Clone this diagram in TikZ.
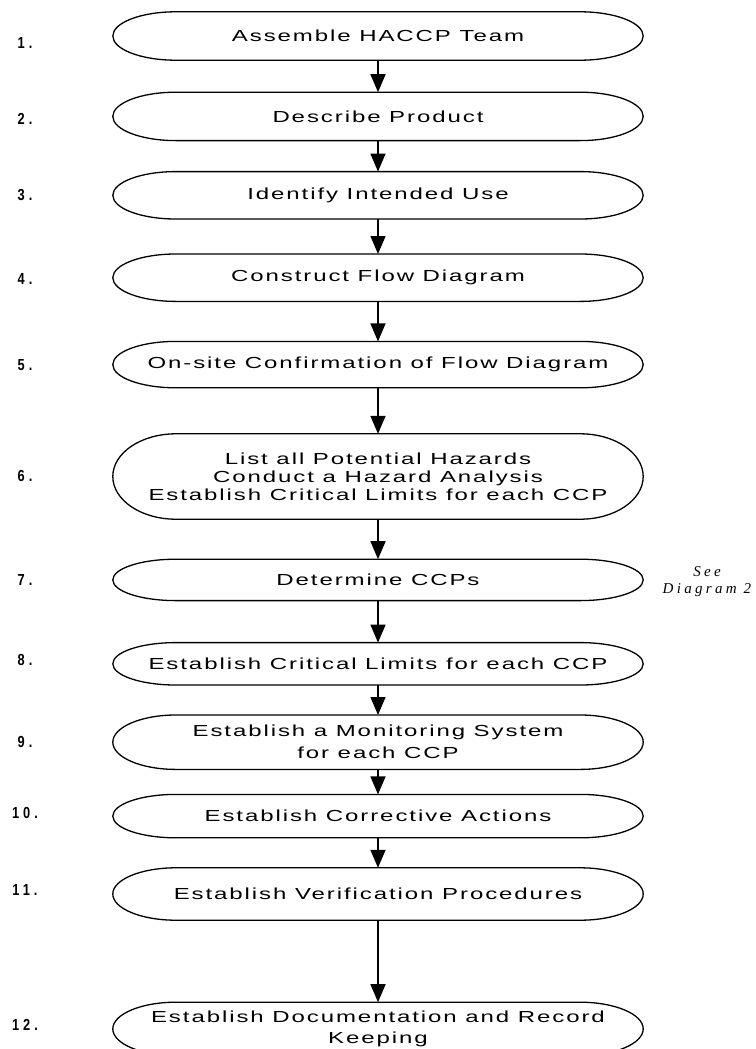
\documentclass[tikz,border=0pt]{standalone}
\usepackage{fontspec}
\setmainfont{Liberation Sans}
\newfontfamily\stepfont[LetterSpace=12,FakeStretch=1.5]{Liberation Sans}
\newfontfamily\numfont[LetterSpace=25,FakeStretch=0.8]{Liberation Sans}
\newfontfamily\notefont[LetterSpace=22]{Liberation Serif}
\usetikzlibrary{positioning,calc,arrows.meta}

\tikzset{
  stepbox/.style={minimum width=530pt,inner sep=0pt,align=center,
    font=\stepfont\fontsize{16}{18}\selectfont},
  flow/.style={line width=1.5pt,-{Triangle[width=15pt,length=18pt]}},
  numlbl/.style={font=\numfont\bfseries\fontsize{16}{18}\selectfont},
}

\begin{document}
\begin{tikzpicture}
    \useasboundingbox (0,0) rectangle (755pt,-1049pt);
    % the twelve steps
    \node[stepbox,minimum height=48pt](s1) at (378pt,-36pt){Assemble HACCP Team};
    \node[stepbox,minimum height=48pt](s2)[below=32pt of s1]{Describe Product};
    \node[stepbox,minimum height=47pt](s3)[below=31pt of s2]{Identify Intended Use};
    \node[stepbox,minimum height=47pt](s4)[below=35pt of s3]{Construct Flow Diagram};
    \node[stepbox,minimum height=46pt](s5)[below=40pt of s4]{On-site Confirmation of Flow Diagram};
    \node[stepbox,minimum height=85pt](s6)[below=46pt of s5]{List all Potential Hazards\\Conduct a Hazard Analysis\\Establish Critical Limits for each CCP};
    \node[stepbox,minimum height=41pt](s7)[below=40pt of s6]{Determine CCPs};
    \node[stepbox,minimum height=42pt](s8)[below=42pt of s7]{Establish Critical Limits for each CCP};
    \node[stepbox,minimum height=54pt](s9)[below=30pt of s8]{Establish a Monitoring System\\[4pt]for each CCP};
    \node[stepbox,minimum height=43pt](s10)[below=25pt of s9]{Establish Corrective Actions};
    \node[stepbox,minimum height=52pt](s11)[below=30pt of s10]{Establish Verification Procedures};
    \node[stepbox,minimum height=53pt](s12)[below=82pt of s11]{Establish Documentation and Record\\[3pt]Keeping};
    \node[font=\notefont\itshape\fontsize{15}{17}\selectfont,align=center](see) at (707pt,-582pt){See\\Diagram 2};
    % outlines, numbers and arrows
    \coordinate(numcol) at (25pt,0);
    \foreach \i/\dy in {1/-7,2/-3,3/0,4/-1,5/0,6/1,7/0,8/4,9/0,10/3,11/4,12/4}{
        \draw[line width=1.3pt] let \p1=($(s\i.north)-(s\i.south)$) in
            ([xshift=63pt]s\i.north west) -- ([xshift=-63pt]s\i.north east)
            arc[start angle=90,end angle=-90,x radius=63pt,y radius=0.5*\y1]
            -- ([xshift=63pt]s\i.south west)
            arc[start angle=270,end angle=90,x radius=63pt,y radius=0.5*\y1] -- cycle;
        \node[numlbl,yshift=\dy pt](n\i) at (s\i.center -| numcol){\i.};
    }
    \foreach \i [count=\j from 2] in {1,...,11}
        \draw[flow](s\i) -- (s\j);
\end{tikzpicture}
\end{document}
